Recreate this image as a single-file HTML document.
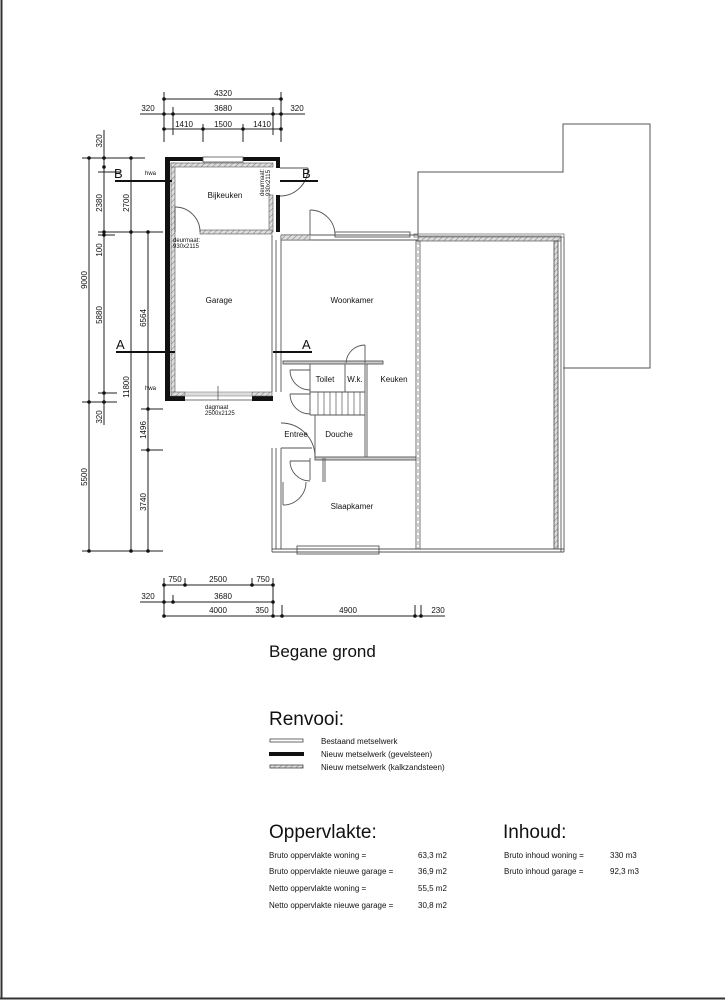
<!DOCTYPE html>
<html><head><meta charset="utf-8"><style>
html,body{margin:0;padding:0;background:#fff;}
svg{display:block;}
text{font-family:"Liberation Sans",sans-serif;fill:#111;}
.t{font-size:8px;}
.s{font-size:6px;}
.d{stroke:#222;stroke-width:1;fill:none;}
.g{stroke:#555;stroke-width:1;fill:none;}
</style></head><body>
<svg width="725" height="1001" viewBox="0 0 725 1001" xmlns="http://www.w3.org/2000/svg">
<defs>
<pattern id="h" width="4" height="4" patternUnits="userSpaceOnUse" patternTransform="rotate(45)">
<rect width="4" height="4" fill="#ddd"/><line x1="0" y1="0" x2="0" y2="4" stroke="#777" stroke-width="1"/></pattern>
</defs>
<line x1="1.5" y1="0" x2="1.5" y2="999" stroke="#333" stroke-width="2"/>
<line x1="0" y1="998.5" x2="725" y2="998.5" stroke="#333" stroke-width="2"/>

<g class="d">
<line x1="164" y1="99" x2="281" y2="99"/>
<line x1="140" y1="114" x2="305" y2="114"/>
<line x1="164" y1="129" x2="281" y2="129"/>
<line x1="164" y1="92" x2="164" y2="142"/><line x1="281" y1="92" x2="281" y2="142"/>
<line x1="173" y1="107" x2="173" y2="135"/><line x1="273" y1="107" x2="273" y2="135"/>
<line x1="203" y1="124" x2="203" y2="142"/><line x1="243" y1="124" x2="243" y2="142"/>
</g>
<g fill="#111">
<circle cx="164" cy="99" r="1.8"/><circle cx="281" cy="99" r="1.8"/>
<circle cx="164" cy="114" r="1.8"/><circle cx="173" cy="114" r="1.8"/><circle cx="273" cy="114" r="1.8"/><circle cx="281" cy="114" r="1.8"/>
<circle cx="164" cy="129" r="1.8"/><circle cx="203" cy="129" r="1.8"/><circle cx="243" cy="129" r="1.8"/><circle cx="281" cy="129" r="1.8"/>
</g>
<g class="t" text-anchor="middle">
<text x="223" y="96">4320</text><text x="148" y="111">320</text><text x="223" y="111">3680</text><text x="297" y="111">320</text>
<text x="184" y="127">1410</text><text x="223" y="127">1500</text><text x="262" y="127">1410</text>
</g>

<g class="d">
<line x1="89" y1="158" x2="89" y2="551"/>
<line x1="104" y1="130" x2="104" y2="425"/>
<line x1="131" y1="158" x2="131" y2="551"/>
<line x1="148" y1="232" x2="148" y2="551"/>
<line x1="82" y1="158" x2="145" y2="158"/>
<line x1="98" y1="172" x2="120" y2="172"/>
<line x1="98" y1="232" x2="163" y2="232"/><line x1="98" y1="235" x2="115" y2="235"/>
<line x1="98" y1="393" x2="117" y2="393"/>
<line x1="82" y1="402" x2="117" y2="402"/>
<line x1="141" y1="409" x2="163" y2="409"/>
<line x1="141" y1="450" x2="163" y2="450"/>
<line x1="82" y1="551" x2="163" y2="551"/>
</g>
<g fill="#111">
<circle cx="89" cy="158" r="1.8"/><circle cx="104" cy="158" r="1.8"/><circle cx="131" cy="158" r="1.8"/>
<circle cx="104" cy="167" r="1.8"/>
<circle cx="104" cy="232" r="1.8"/><circle cx="104" cy="235" r="1.8"/><circle cx="131" cy="232" r="1.8"/><circle cx="148" cy="232" r="1.8"/>
<circle cx="104" cy="393" r="1.8"/><circle cx="104" cy="402" r="1.8"/><circle cx="89" cy="402" r="1.8"/>
<circle cx="148" cy="409" r="1.8"/><circle cx="148" cy="450" r="1.8"/>
<circle cx="89" cy="551" r="1.8"/><circle cx="131" cy="551" r="1.8"/><circle cx="148" cy="551" r="1.8"/>
</g>
<g class="t" text-anchor="middle">
<text transform="translate(102,141) rotate(-90)">320</text>
<text transform="translate(102,203) rotate(-90)">2380</text>
<text transform="translate(129,203) rotate(-90)">2700</text>
<text transform="translate(102,250) rotate(-90)">100</text>
<text transform="translate(87,280) rotate(-90)">9000</text>
<text transform="translate(102,315) rotate(-90)">5880</text>
<text transform="translate(146,318) rotate(-90)">6564</text>
<text transform="translate(129,387) rotate(-90)">11800</text>
<text transform="translate(102,417) rotate(-90)">320</text>
<text transform="translate(146,430) rotate(-90)">1496</text>
<text transform="translate(87,477) rotate(-90)">5500</text>
<text transform="translate(146,502) rotate(-90)">3740</text>
</g>

<g class="d">
<line x1="164" y1="585" x2="273" y2="585"/>
<line x1="140" y1="602" x2="273" y2="602"/>
<line x1="164" y1="616" x2="445" y2="616"/>
<line x1="164" y1="578" x2="164" y2="616"/><line x1="185" y1="578" x2="185" y2="585"/>
<line x1="252" y1="578" x2="252" y2="585"/><line x1="273" y1="578" x2="273" y2="616"/>
<line x1="173" y1="595" x2="173" y2="602"/>
<line x1="282" y1="605" x2="282" y2="616"/><line x1="415" y1="605" x2="415" y2="616"/><line x1="421" y1="605" x2="421" y2="616"/>
</g>
<g fill="#111">
<circle cx="164" cy="585" r="1.8"/><circle cx="185" cy="585" r="1.8"/><circle cx="252" cy="585" r="1.8"/><circle cx="273" cy="585" r="1.8"/>
<circle cx="164" cy="602" r="1.8"/><circle cx="173" cy="602" r="1.8"/><circle cx="273" cy="602" r="1.8"/>
<circle cx="164" cy="616" r="1.8"/><circle cx="273" cy="616" r="1.8"/><circle cx="282" cy="616" r="1.8"/><circle cx="415" cy="616" r="1.8"/><circle cx="421" cy="616" r="1.8"/>
</g>
<g class="t" text-anchor="middle">
<text x="175" y="582">750</text><text x="218" y="582">2500</text><text x="263" y="582">750</text>
<text x="148" y="599">320</text><text x="223" y="599">3680</text>
<text x="218" y="613">4000</text><text x="262" y="613">350</text><text x="348" y="613">4900</text><text x="438" y="613">230</text>
</g>

<path d="M418,236 L418,172 L563,172 L563,124 L650,124 L650,368 L563,368" class="g"/>

<rect x="418" y="236" width="143" height="5" fill="url(#h)" stroke="#666" stroke-width="0.8"/>
<rect x="414" y="234" width="150" height="3" fill="none" stroke="#777" stroke-width="0.8"/>
<rect x="416" y="241" width="4" height="308" fill="none" stroke="#555" stroke-width="0.8"/>
<line x1="418" y1="241" x2="418" y2="549" stroke="#888" stroke-width="0.8" stroke-dasharray="4,2"/>
<rect x="554" y="241" width="4" height="308" fill="url(#h)" stroke="#444" stroke-width="0.8"/>
<line x1="561" y1="237" x2="561" y2="552" stroke="#666" stroke-width="1"/>
<line x1="564" y1="237" x2="564" y2="552" stroke="#666" stroke-width="1"/>

<g stroke="#555" stroke-width="0.9" fill="none">
<line x1="272" y1="235" x2="272" y2="392"/><line x1="281" y1="235" x2="281" y2="392"/>
<line x1="272" y1="448" x2="272" y2="552"/><line x1="281" y1="448" x2="281" y2="549"/>
<line x1="276" y1="448" x2="276" y2="549"/><line x1="276" y1="240" x2="276" y2="392"/>
<line x1="272" y1="549" x2="564" y2="549"/><line x1="272" y1="552" x2="564" y2="552"/>
<rect x="297" y="546" width="82" height="8"/>
<line x1="281" y1="235" x2="418" y2="235"/><line x1="281" y1="240" x2="418" y2="240"/>
<rect x="335" y="232" width="75" height="5"/>
<line x1="310" y1="235" x2="310" y2="210"/>
<path d="M310,210 A25,25 0 0 1 335,235"/>
</g>
<rect x="281" y="235" width="29" height="5" fill="url(#h)" stroke="#666" stroke-width="0.6"/>

<g fill="#111">
<rect x="165" y="157" width="5" height="244"/>
<rect x="165" y="157" width="38" height="4"/>
<rect x="243" y="157" width="37" height="4"/>
<rect x="276" y="157" width="4" height="11"/>
<rect x="276" y="195" width="4" height="37"/>
<rect x="165" y="396" width="20" height="5"/>
<rect x="252" y="396" width="21" height="5"/>
</g>
<rect x="203" y="157" width="40" height="5" fill="#fff" stroke="#555" stroke-width="0.8"/>
<g fill="url(#h)" stroke="#555" stroke-width="0.6">
<rect x="171" y="163" width="4" height="230"/>
<rect x="171" y="163" width="102" height="4"/>
<rect x="269" y="195" width="4" height="37"/>
<rect x="200" y="230" width="72" height="4"/>
<rect x="171" y="392" width="14" height="4"/>
<rect x="252" y="392" width="20" height="4"/>
</g>
<rect x="185" y="392" width="67" height="4" fill="#ddd" stroke="#888" stroke-width="0.6"/>
<line x1="218" y1="386" x2="218" y2="400" stroke="#444" stroke-width="0.7"/>
<line x1="185" y1="400" x2="252" y2="400" stroke="#444" stroke-width="0.8"/>
<g class="g">
<line x1="280" y1="168" x2="308" y2="168"/><path d="M308,168 A28,28 0 0 1 280,196"/>
<line x1="175" y1="232" x2="175" y2="207"/><path d="M175,207 A25,25 0 0 1 200,232"/>
</g>

<g stroke="#111" stroke-width="2">
<line x1="115" y1="181" x2="172" y2="181"/><line x1="280" y1="181" x2="318" y2="181"/>
<line x1="116" y1="352" x2="175" y2="352"/><line x1="273" y1="352" x2="312" y2="352"/>
</g>
<g font-size="13">
<text x="114" y="178">B</text><text x="302" y="178">B</text>
<text x="116" y="349">A</text><text x="302" y="349">A</text>
</g>

<g stroke="#555" stroke-width="0.9" fill="none">
<rect x="283" y="361" width="100" height="3" fill="#ccc"/>
<line x1="310" y1="364" x2="310" y2="415"/>
<line x1="345" y1="364" x2="345" y2="392"/>
<line x1="365" y1="364" x2="365" y2="458"/>
<line x1="367" y1="364" x2="367" y2="458"/>
<line x1="310" y1="392" x2="365" y2="392"/>
<line x1="310" y1="415" x2="365" y2="415"/>
<line x1="315" y1="415" x2="315" y2="458"/>
<rect x="315" y="457" width="101" height="3" fill="#ccc"/>
<line x1="310" y1="458" x2="310" y2="480"/><line x1="323" y1="458" x2="323" y2="482"/><line x1="325" y1="458" x2="325" y2="482"/>
<line x1="365" y1="363" x2="365" y2="345"/><path d="M365,345 A19,19 0 0 0 346,363"/>
<line x1="290" y1="370" x2="310" y2="370"/><path d="M290,370 A20,20 0 0 0 310,390"/>
<line x1="290" y1="394" x2="310" y2="394"/><path d="M290,394 A20,20 0 0 0 310,414"/>
<path d="M281,423 A34,34 0 0 1 315,457"/>
<line x1="290" y1="461" x2="310" y2="461"/><path d="M290,461 A20,20 0 0 0 310,481"/>
<line x1="283" y1="482" x2="283" y2="505"/><path d="M283,505 A23,23 0 0 0 306,482"/>
<line x1="281" y1="448" x2="312" y2="448"/>
</g>
<g stroke="#555" stroke-width="0.7">
<line x1="318" y1="392" x2="318" y2="415"/><line x1="324" y1="392" x2="324" y2="415"/><line x1="330" y1="392" x2="330" y2="415"/>
<line x1="336" y1="392" x2="336" y2="415"/><line x1="342" y1="392" x2="342" y2="415"/><line x1="348" y1="392" x2="348" y2="415"/>
<line x1="354" y1="392" x2="354" y2="415"/><line x1="360" y1="392" x2="360" y2="415"/>
</g>

<g class="t" text-anchor="middle">
<text x="225" y="198">Bijkeuken</text>
<text x="219" y="303">Garage</text>
<text x="352" y="303">Woonkamer</text>
<text x="325" y="382">Toilet</text>
<text x="355" y="382">W.k.</text>
<text x="394" y="382">Keuken</text>
<text x="339" y="437">Douche</text>
<text x="296" y="437">Entree</text>
<text x="352" y="509">Slaapkamer</text>
</g>
<g class="s">
<text x="173" y="242">deurmaat:</text><text x="173" y="248">930x2115</text>
<text x="205" y="409">dagmaat</text><text x="205" y="415">2500x2125</text>
<text x="145" y="175">hwa</text><text x="145" y="390">hwa</text>
<text transform="translate(264,196) rotate(-90)">deurmaat:</text>
<text transform="translate(270,196) rotate(-90)">930x2115</text>
</g>

<text x="269" y="657" font-size="17">Begane grond</text>
<text x="269" y="725" font-size="19">Renvooi:</text>
<rect x="270" y="739" width="33" height="3" fill="#fff" stroke="#444" stroke-width="0.8"/>
<rect x="269" y="752" width="35" height="4" fill="#111"/>
<rect x="270" y="765" width="33" height="3" fill="url(#h)" stroke="#444" stroke-width="0.8"/>
<g class="t">
<text x="321" y="744">Bestaand metselwerk</text>
<text x="321" y="757">Nieuw metselwerk (gevelsteen)</text>
<text x="321" y="770">Nieuw metselwerk (kalkzandsteen)</text>
</g>
<text x="269" y="838" font-size="19">Oppervlakte:</text>
<text x="503" y="838" font-size="19">Inhoud:</text>
<g class="t">
<text x="269" y="858">Bruto oppervlakte woning =</text><text x="418" y="858">63,3 m2</text>
<text x="269" y="874">Bruto oppervlakte nieuwe garage =</text><text x="418" y="874">36,9 m2</text>
<text x="269" y="891">Netto oppervlakte woning =</text><text x="418" y="891">55,5 m2</text>
<text x="269" y="908">Netto oppervlakte nieuwe garage =</text><text x="418" y="908">30,8 m2</text>
<text x="504" y="858">Bruto inhoud woning =</text><text x="610" y="858">330 m3</text>
<text x="504" y="874">Bruto inhoud garage =</text><text x="610" y="874">92,3 m3</text>
</g>
</svg>
</body></html>
